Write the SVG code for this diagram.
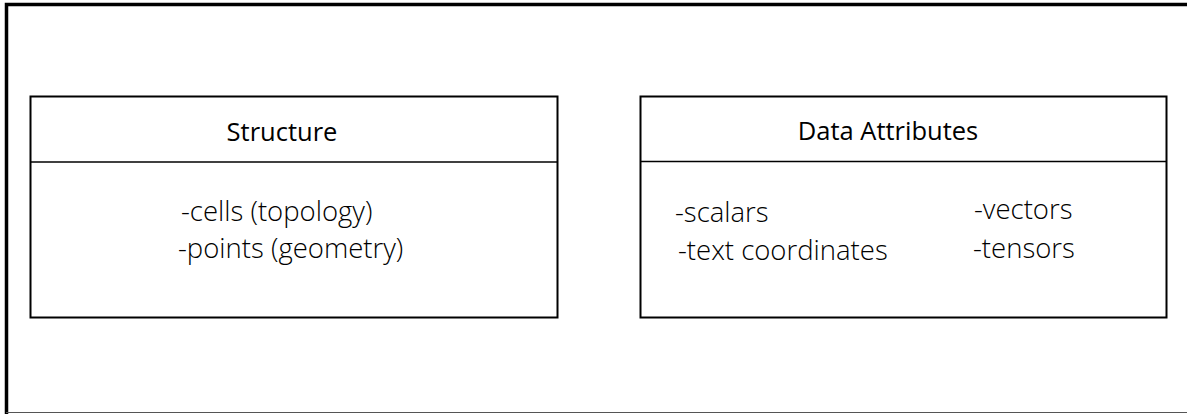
<svg xmlns="http://www.w3.org/2000/svg" width="1187" height="414" viewBox="0 0 1187 414">
<style>
.box{fill:#fff;stroke:#000;stroke-width:2}
.div{stroke:#000;stroke-width:1.3}
.t{font-family:"Open Sans","Liberation Sans",sans-serif;font-size:25.5px;fill:#000}
.b{font-family:"Open Sans","Liberation Sans",sans-serif;font-weight:300;font-size:27.5px;fill:#000}
</style>
<rect width="1187" height="414" fill="#fff"/>
<g id="frame">
<path d="M6.5,414 V4.5 H1187" fill="none" stroke="#000" stroke-width="3.5"/>
<line x1="6" y1="412.5" x2="1187" y2="412.5" stroke="#555" stroke-width="1.2"/>
</g>
<g id="structure">
<rect class="box" x="30.5" y="96.5" width="527" height="221"/>
<line class="div" x1="30.5" y1="162" x2="557.5" y2="162"/>
<text class="t" x="282" y="141" text-anchor="middle">Structure</text>
<text class="b" x="181" y="221">-cells (topology)</text>
<text class="b" x="178" y="258">-points (geometry)</text>
</g>
<g id="data-attributes">
<rect class="box" x="640.5" y="96.5" width="526" height="221"/>
<line class="div" x1="640.5" y1="161.5" x2="1166.5" y2="161.5"/>
<text class="t" x="888" y="140" text-anchor="middle">Data Attributes</text>
<text class="b" x="675" y="222">-scalars</text>
<text class="b" x="678" y="260">-text coordinates</text>
<text class="b" x="974" y="219">-vectors</text>
<text class="b" x="973" y="258">-tensors</text>
</g>
<g id="connectors"/>
</svg>
